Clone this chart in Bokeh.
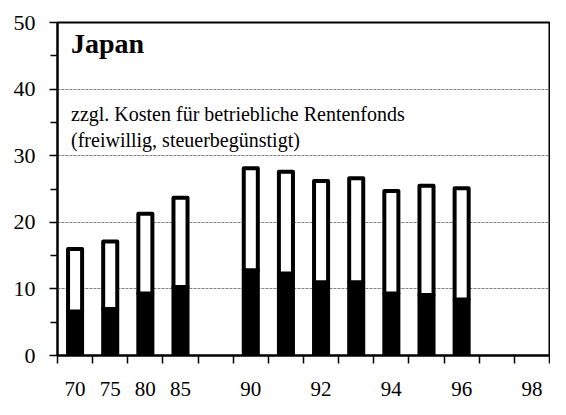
from bokeh.plotting import figure
from bokeh.models import FixedTicker, Range1d, Label
from bokeh.embed import file_html
from bokeh.resources import INLINE

# ---- data ----
years = [70, 75, 80, 85, 90, 91, 92, 93, 94, 95, 96]
lower = [6.6, 7.0, 9.3, 10.3, 12.8, 12.3, 11.0, 11.0, 9.3, 9.1, 8.4]
total = [16.0, 17.1, 21.3, 23.7, 28.1, 27.6, 26.2, 26.6, 24.7, 25.5, 25.1]
tick_years = [70, 75, 80, 85, 90, 92, 94, 96, 98]
y_ticks = [0, 10, 20, 30, 40, 50]
title_text = "Japan"
note_lines = ["zzgl. Kosten für betriebliche Rentenfonds",
              "(freiwillig,  steuerbegünstigt)"]


def slot(yr):
    # broken axis: 5-year steps before 1990, yearly after
    return (yr - 70) / 5 if yr < 90 else yr - 85


xs = [slot(y) for y in years]
n_slots = int(slot(98)) + 1

FONT = "Liberation Serif"

p = figure(width=550, height=399, output_backend="svg", toolbar_location=None,
           x_range=Range1d(-0.5, n_slots - 0.5), y_range=Range1d(0, 50),
           min_border_left=57, min_border_right=1, min_border_top=22,
           min_border_bottom=44)

p.outline_line_color = "black"
p.outline_line_width = 2

# grid
p.xgrid.visible = False
p.ygrid.ticker = FixedTicker(ticks=y_ticks)
p.ygrid.grid_line_color = "#808080"
p.ygrid.grid_line_dash = "3 1"
p.ygrid.grid_line_width = 1

# bars
p.vbar(x=xs, bottom=0, top=lower, width=0.4, fill_color="black",
       line_color="black", line_width=4, line_join="round")
p.vbar(x=xs, bottom=lower, top=total, width=0.4, fill_color="white",
       line_color="black", line_width=4, line_join="round")

# x axis
xa = p.xaxis[0]
xa.ticker = FixedTicker(ticks=[slot(t) for t in tick_years],
                        minor_ticks=[i - 0.5 for i in range(n_slots + 1)])
xa.major_label_overrides = {slot(t): str(t) for t in tick_years}
xa.major_tick_out = 0
xa.major_tick_in = 0
xa.minor_tick_out = 8
xa.minor_tick_in = 0
xa.minor_tick_line_color = "black"
xa.minor_tick_line_width = 1.5
xa.axis_line_color = "black"
xa.axis_line_width = 2
xa.major_label_standoff = 18
xa.major_label_text_font = FONT
xa.major_label_text_font_size = "21px"
xa.major_label_text_line_height = 0.9
xa.major_label_text_color = "black"

# y axis
ya = p.yaxis[0]
ya.ticker = FixedTicker(ticks=y_ticks, minor_ticks=[5, 15, 25, 35, 45])
ya.major_tick_out = 8
ya.major_tick_in = 0
ya.minor_tick_out = 7
ya.minor_tick_in = 0
ya.major_tick_line_width = 1.5
ya.minor_tick_line_width = 1.5
ya.major_tick_line_color = "black"
ya.minor_tick_line_color = "black"
ya.axis_line_color = "black"
ya.axis_line_width = 2
ya.major_label_standoff = 14
ya.major_label_text_font = FONT
ya.major_label_text_font_size = "22px"
ya.major_label_text_color = "black"

# texts
p.add_layout(Label(x=-0.115, y=46.8, text=title_text, text_font=FONT,
                   text_font_size="28px", text_font_style="bold",
                   text_baseline="middle", text_color="black"))
p.add_layout(Label(x=-0.115, y=36.3, text=note_lines[0], text_font=FONT,
                   text_font_size="20px", text_baseline="middle",
                   text_color="black"))
p.add_layout(Label(x=-0.115, y=32.4, text=note_lines[1], text_font=FONT,
                   text_font_size="20px", text_baseline="middle",
                   text_color="black"))

open("out.html", "w").write(file_html(p, INLINE))
